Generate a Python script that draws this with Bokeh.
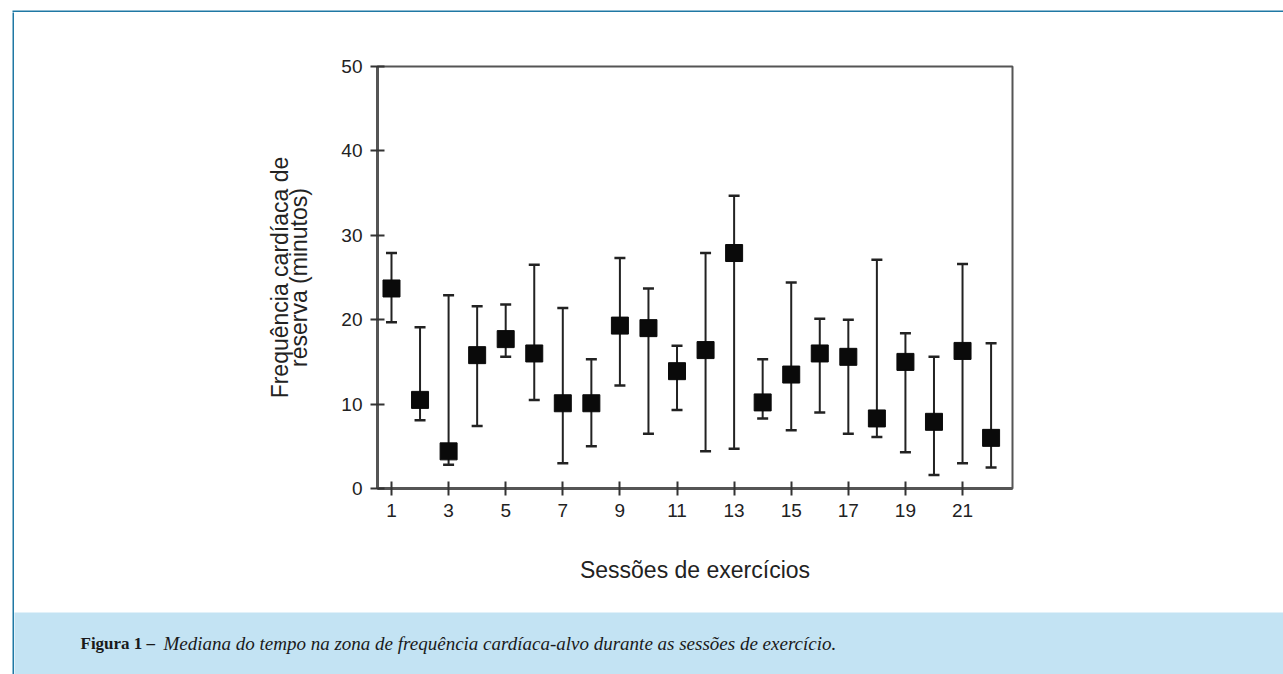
from bokeh.plotting import figure
from bokeh.layouts import column, row
from bokeh.models import Range1d, FixedTicker, Label, ColumnDataSource
from bokeh.embed import file_html
from bokeh.resources import INLINE

sessions = list(range(1, 23))
median = [23.7, 10.5, 4.4, 15.8, 17.7, 16.0, 10.1, 10.1, 19.3, 19.0, 13.9,
          16.4, 27.9, 10.2, 13.5, 16.0, 15.6, 8.3, 15.0, 7.9, 16.3, 6.0]
upper = [27.9, 19.1, 22.9, 21.6, 21.8, 26.5, 21.4, 15.3, 27.3, 23.7, 16.9,
         27.9, 34.7, 15.3, 24.4, 20.1, 20.0, 27.1, 18.4, 15.6, 26.6, 17.2]
lower = [19.7, 8.1, 2.8, 7.4, 15.6, 10.5, 3.0, 5.0, 12.2, 6.5, 9.3,
         4.4, 4.7, 8.3, 6.9, 9.0, 6.5, 6.1, 4.3, 1.6, 3.0, 2.5]
x_ticks = [1, 3, 5, 7, 9, 11, 13, 15, 17, 19, 21]
y_ticks = [0, 10, 20, 30, 40, 50]
x_label = "Sessões de exercícios"
y_label = "Frequência cardíaca de\nreserva (minutos)"
caption_bold = "Figura 1 –"
caption_text = "Mediana do tempo na zona de frequência cardíaca-alvo durante as sessões de exercício."

TEAL = "#1f78a4"
BAND = "#c3e3f3"

PAGE_W, PAGE_H = 1283, 674
OX, OY = 14, 12            # chart figure origin on the page
CAP_TOP = 612              # caption band top on the page
CW, CH = PAGE_W - OX, CAP_TOP - OY
FL, FT, FR, FB = 377 - OX, 66 - OY, 1012 - OX, 488 - OY  # frame edges inside chart figure

def blank(width, height, color, **borders):
    f = figure(width=width, height=height, output_backend="svg", toolbar_location=None,
               x_axis_type=None, y_axis_type=None, min_border=0,
               x_range=Range1d(0, 1), y_range=Range1d(0, 1))
    for k, v in borders.items():
        setattr(f, k, v)
    f.background_fill_color = color
    f.border_fill_color = "white"
    f.outline_line_color = None
    f.grid.visible = False
    return f

# thin teal frame lines of the article box
top_strip = blank(PAGE_W, 12, TEAL, min_border_top=10, min_border_left=12)
left_strip = blank(14, PAGE_H - 12, TEAL, min_border_left=12)

# main chart
src = ColumnDataSource(dict(x=sessions, m=median, hi=upper, lo=lower))
p = figure(width=CW, height=CH, output_backend="svg", toolbar_location=None,
           x_range=Range1d(0.51, 22.75), y_range=Range1d(0, 50),
           min_border_left=FL, min_border_top=FT,
           min_border_right=CW - FR, min_border_bottom=CH - FB)
p.background_fill_color = "white"
p.border_fill_color = "white"
p.grid.visible = False
p.outline_line_color = "#555555"
p.outline_line_width = 2

for ax in (p.xaxis[0], p.yaxis[0]):
    ax.axis_line_color = "#555555"
    ax.axis_line_width = 3
    ax.major_tick_line_color = "#333333"
    ax.major_tick_line_width = 2
    ax.major_tick_in = 7
    ax.major_tick_out = 7
    ax.minor_tick_line_color = None
    ax.major_label_text_font = "Liberation Sans"
    ax.major_label_text_font_size = "19px"
    ax.major_label_text_color = "#222222"
    ax.axis_label_text_font = "Liberation Sans"
    ax.axis_label_text_font_style = "normal"
    ax.axis_label_text_color = "#222222"

p.xaxis.ticker = FixedTicker(ticks=x_ticks)
p.yaxis.ticker = FixedTicker(ticks=y_ticks)
p.xaxis.major_label_standoff = 8
p.yaxis.major_label_standoff = 8
p.xaxis.axis_label = x_label
p.xaxis.axis_label_text_font_size = "23px"
p.xaxis.axis_label_standoff = 37
p.yaxis.axis_label = y_label
p.yaxis.axis_label_text_font_size = "23px"
p.yaxis.axis_label_text_line_height = 0.74
p.yaxis.axis_label_standoff = 26

p.segment(x0="x", y0="lo", x1="x", y1="hi", source=src, line_color="#222222", line_width=2)
p.scatter(x="x", y="hi", source=src, marker="dash", size=11, line_color="#222222", line_width=2.5)
p.scatter(x="x", y="lo", source=src, marker="dash", size=11, line_color="#222222", line_width=2.5)
p.scatter(x="x", y="m", source=src, marker="square", size=17, fill_color="#0a0a0a", line_color="#0a0a0a")

# caption band (its own figure, wrapped in a row so its frame is not aligned with the chart)
cap = blank(CW, PAGE_H - CAP_TOP, BAND)
cap.border_fill_color = BAND
cap_y = PAGE_H - 643  # from band bottom
cap.add_layout(Label(x=80 - OX, y=cap_y, x_units="screen", y_units="screen",
                     text=caption_bold, text_font="Liberation Serif", text_font_style="bold",
                     text_font_size="17px", text_baseline="middle", text_color="#1a1a1a"))
cap.add_layout(Label(x=80 - OX + 83, y=cap_y, x_units="screen", y_units="screen",
                     text=caption_text, text_font="Liberation Serif", text_font_style="italic",
                     text_font_size="19px", text_baseline="middle", text_color="#1a1a1a"))

layout = column(top_strip,
                row(left_strip, column(p, row(cap, spacing=0), spacing=0), spacing=0),
                spacing=0)
open("out.html", "w").write(file_html(layout, INLINE))
